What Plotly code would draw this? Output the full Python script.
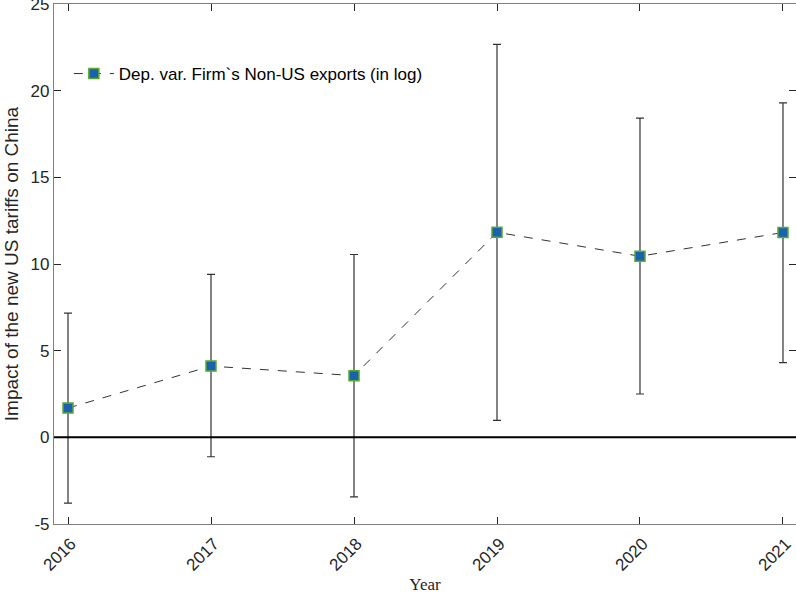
import plotly.graph_objects as go

years = [2016, 2017, 2018, 2019, 2020, 2021]
coef = [1.69, 4.11, 3.56, 11.83, 10.45, 11.82]
upper = [7.17, 9.40, 10.55, 22.68, 18.42, 19.30]
lower = [-3.79, -1.12, -3.44, 0.98, 2.50, 4.31]

ytick_vals = [-5, 0, 5, 10, 15, 20, 25]
ytick_text = ["-5", "0", "5", "10", "15", "20", "25"]
xtick_text = [str(y) for y in years]

err_plus = [u - c for u, c in zip(upper, coef)]
err_minus = [c - l for c, l in zip(coef, lower)]

fig = go.Figure()
fig.add_trace(go.Scatter(
    x=years, y=coef, mode="lines+markers",
    name="Dep. var. Firm`s Non-US exports (in log)",
    line=dict(color="#333333", width=1, dash="dash"),
    marker=dict(symbol="square", size=10, color="#1a62b0",
                line=dict(color="#5aa832", width=1.5)),
    error_y=dict(type="data", symmetric=False, array=err_plus, arrayminus=err_minus,
                 color="#333333", thickness=1.2, width=4),
))

fig.add_shape(type="line", xref="paper", yref="y", x0=0, x1=1, y0=0, y1=0,
              line=dict(color="black", width=2))

axis_common = dict(showline=True, linecolor="#808080", linewidth=1.2, mirror="ticks",
                   ticks="inside", ticklen=7, tickcolor="#262626", tickwidth=1,
                   showgrid=False, zeroline=False, automargin=False,
                   ticklabeloverflow="allow",
                   tickfont=dict(family="Liberation Sans, Arial", size=17, color="#262626"))

fig.update_xaxes(range=[2015.902, 2021.091], tickvals=years, ticktext=xtick_text,
                 tickangle=-45, ticklabelshift=3, ticklabelstandoff=2,
                 title=dict(text="Year", font=dict(family="Liberation Serif, Times New Roman", size=17, color="#262626"), standoff=4),
                 **axis_common)
fig.update_yaxes(range=[-5, 25.004], tickvals=ytick_vals, ticktext=ytick_text,
                 title=dict(text="Impact of the new US tariffs on China", font=dict(family="Liberation Sans, Arial", size=19, color="#262626"), standoff=6),
                 **axis_common)

fig.update_layout(
    width=796, height=596,
    margin=dict(l=54, r=0, t=4, b=72),
    plot_bgcolor="white", paper_bgcolor="white",
    showlegend=True,
    legend=dict(x=0.02, y=0.9, xanchor="left", yanchor="top", bgcolor="rgba(255,255,255,0)",
                itemwidth=40,
                font=dict(family="Liberation Sans, Arial", size=17, color="black")),
)

fig.write_html("out.html")
